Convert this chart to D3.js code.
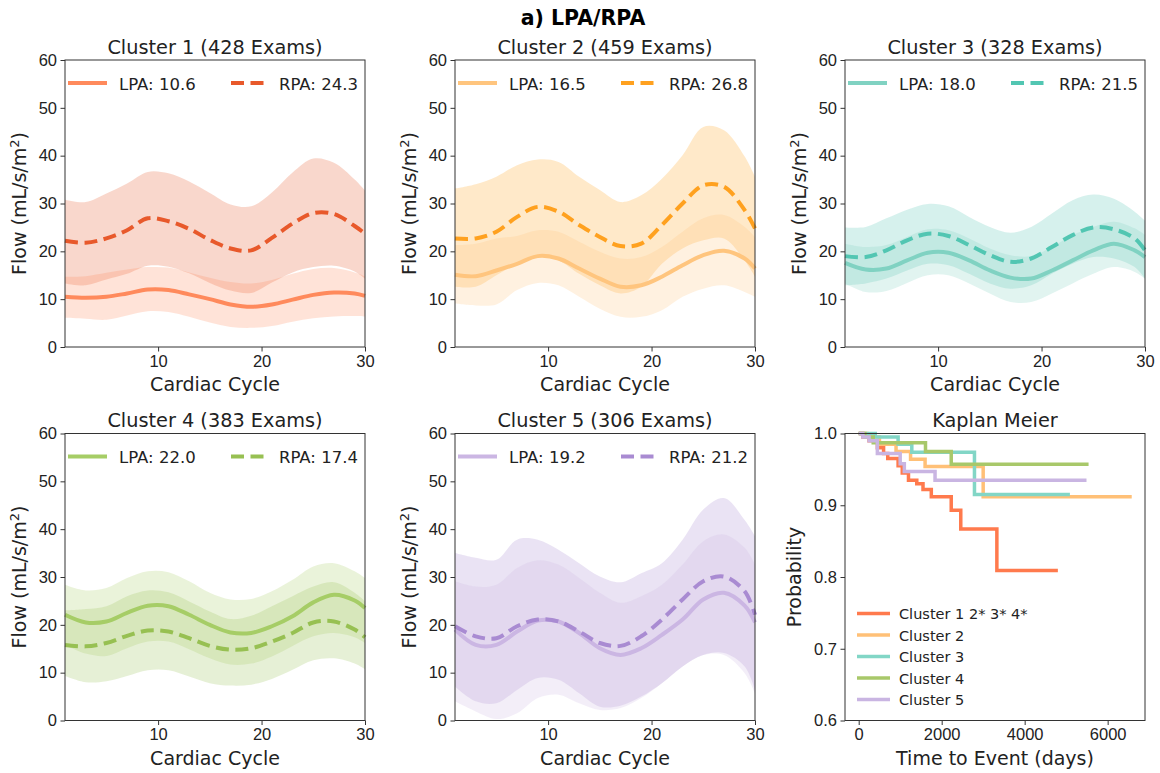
<!DOCTYPE html>
<html>
<head>
<meta charset="utf-8">
<script src="https://cdn.jsdelivr.net/npm/d3@7"></script>
<style>
body { margin: 0; background: #fff; }
svg { font-family: "DejaVu Sans", sans-serif; }
.tick text { font-size: 16.5px; fill: #222; }
.tick line { stroke: #333; }
</style>
</head>
<body>
<svg id="chart" width="1160" height="773"></svg>
<script>
// cardiac cycle frames at which values were read
var cycle = [1, 3, 5, 7, 9, 11, 13, 15, 17, 19, 21, 23, 25, 27, 29, 30];

var clusterNames = ["Cluster 1", "Cluster 2", "Cluster 3", "Cluster 4", "Cluster 5"];
var examCounts = [428, 459, 328, 383, 306];
var lpaAvg = ["10.6", "16.5", "18.0", "22.0", "19.2"];
var rpaAvg = ["24.3", "26.8", "21.5", "17.4", "21.2"];

var lpaColors = ["#ff8a5c", "#ffc57e", "#80d2c2", "#a6cd66", "#cbb6e3"];
var rpaColors = ["#e8592b", "#ffa11f", "#52c6b2", "#97c052", "#a98bd2"];

// LPA flow per cluster
var lpaMean = [
	[10.5, 10.3, 10.5, 11.2, 12.0, 11.9, 11.0, 10.0, 8.9, 8.4, 8.9, 9.9, 10.9, 11.4, 11.2, 10.7],
	[15.1, 14.8, 16.0, 17.4, 19.0, 18.5, 16.4, 14.3, 12.6, 12.9, 14.7, 17.1, 19.2, 20.1, 18.5, 16.4],
	[17.6, 16.2, 16.4, 18.1, 19.7, 19.7, 18.1, 16.0, 14.5, 14.3, 16.0, 18.1, 20.2, 21.6, 20.2, 18.8],
	[22.1, 20.5, 20.7, 22.5, 24.0, 23.9, 22.1, 20.0, 18.4, 18.3, 19.7, 21.8, 24.7, 26.3, 25.1, 23.5],
	[19.0, 15.8, 15.8, 18.6, 20.9, 20.7, 18.3, 15.1, 13.7, 15.1, 17.9, 21.1, 25.3, 26.7, 24.0, 20.5]
];
var lpaLow = [
	[6.1, 5.9, 5.7, 6.6, 7.5, 7.3, 6.3, 5.1, 4.2, 4.0, 4.4, 5.3, 6.0, 6.4, 6.5, 6.4],
	[9.1, 8.7, 8.9, 11.9, 13.4, 12.9, 10.5, 8.0, 6.3, 6.3, 7.7, 10.5, 12.2, 12.9, 11.5, 10.5],
	[13.3, 11.5, 11.7, 13.4, 15.0, 15.0, 13.3, 11.2, 9.4, 9.4, 11.2, 13.3, 15.3, 16.7, 15.7, 14.3],
	[15.8, 14.0, 13.5, 15.1, 16.5, 16.5, 14.9, 13.0, 11.7, 11.9, 13.4, 15.6, 17.6, 18.3, 17.4, 16.2],
	[4.0, 1.9, 0.3, 1.5, 4.7, 5.4, 3.6, 2.2, 2.6, 4.7, 7.8, 11.3, 13.7, 13.7, 9.9, 5.7]
];
var lpaHigh = [
	[14.7, 14.8, 15.5, 16.2, 16.7, 16.6, 15.6, 14.5, 13.6, 13.3, 14.0, 15.3, 16.3, 16.5, 15.6, 14.8],
	[21.3, 21.6, 22.7, 23.2, 24.4, 24.1, 22.0, 19.9, 18.5, 18.8, 20.9, 24.1, 26.9, 27.6, 25.1, 23.0],
	[21.6, 20.9, 21.3, 23.0, 24.6, 24.4, 22.7, 20.6, 19.2, 19.0, 20.9, 23.4, 25.1, 26.2, 24.8, 23.4],
	[28.4, 27.2, 27.7, 29.8, 31.2, 31.0, 29.1, 26.7, 25.3, 25.4, 27.0, 29.4, 32.2, 32.9, 31.2, 29.8],
	[29.1, 28.0, 28.4, 31.9, 33.5, 32.6, 29.8, 26.7, 24.6, 26.0, 28.4, 32.6, 37.5, 38.9, 36.1, 32.6]
];

// RPA flow per cluster
var rpaMean = [
	[22.2, 21.8, 22.7, 24.4, 26.9, 26.3, 24.7, 22.4, 20.6, 20.2, 22.8, 25.8, 28.0, 27.8, 25.3, 23.7],
	[22.7, 22.7, 24.1, 27.2, 29.3, 28.3, 25.5, 23.0, 21.1, 21.6, 25.5, 30.0, 33.8, 33.5, 28.6, 24.8],
	[19.0, 18.8, 20.2, 22.3, 23.7, 23.2, 21.3, 19.2, 17.8, 18.5, 20.9, 23.4, 25.0, 24.6, 22.7, 20.2],
	[15.8, 15.5, 16.2, 17.7, 18.8, 18.6, 17.2, 15.6, 14.8, 15.1, 16.5, 18.3, 20.5, 20.7, 19.0, 17.4],
	[19.7, 17.6, 17.2, 19.7, 21.1, 20.7, 18.6, 16.2, 15.6, 17.6, 21.1, 25.3, 29.1, 30.1, 27.0, 22.1]
];
var rpaLow = [
	[13.3, 12.9, 14.1, 15.3, 17.0, 16.8, 15.4, 13.4, 11.8, 11.3, 13.5, 15.6, 16.7, 17.0, 15.8, 14.3],
	[12.6, 12.6, 15.0, 17.4, 18.8, 18.1, 15.3, 12.9, 11.2, 12.6, 17.4, 20.6, 22.3, 22.7, 18.1, 14.7],
	[12.9, 13.3, 14.3, 16.0, 17.4, 17.1, 15.3, 13.3, 12.2, 12.9, 15.3, 17.4, 18.8, 18.5, 16.7, 14.3],
	[9.3, 8.0, 8.2, 9.3, 10.5, 10.5, 9.2, 7.8, 7.3, 7.5, 8.7, 10.6, 12.6, 13.0, 11.9, 10.7],
	[7.1, 4.0, 3.6, 6.4, 8.9, 8.5, 5.7, 2.9, 3.1, 5.0, 7.8, 11.3, 13.7, 14.1, 11.3, 6.4]
];
var rpaHigh = [
	[30.8, 30.3, 32.1, 34.2, 36.6, 36.3, 34.6, 32.2, 29.8, 29.4, 32.3, 36.5, 39.4, 38.5, 35.0, 32.7],
	[33.1, 34.0, 35.6, 38.0, 39.2, 38.7, 35.6, 32.8, 30.3, 31.7, 35.2, 40.1, 46.0, 45.3, 39.8, 35.6],
	[25.0, 25.1, 26.9, 28.7, 29.9, 29.4, 27.2, 25.1, 23.9, 25.1, 27.9, 30.7, 31.9, 31.0, 28.3, 26.4],
	[23.0, 23.3, 23.9, 26.0, 27.2, 26.8, 24.9, 22.8, 21.2, 21.9, 23.9, 26.0, 28.0, 28.9, 26.7, 24.9],
	[35.0, 34.0, 33.6, 37.8, 37.8, 35.7, 32.9, 30.1, 28.9, 30.8, 32.9, 37.8, 44.1, 46.5, 41.9, 38.5]
];

// Kaplan Meier steps (time in days, survival probability)
var kmLabels = ["Cluster 1 2* 3* 4*", "Cluster 2", "Cluster 3", "Cluster 4", "Cluster 5"];
var kmColors = ["#ff7a4d", "#ffc077", "#82d6c6", "#a8c86a", "#c9b5e2"];
var kmTimes = [
	[0, 100, 250, 450, 600, 700, 950, 1050, 1200, 1400, 1550, 1750, 2230, 2460, 3330, 4800],
	[0, 200, 500, 900, 1250, 1600, 3000, 6580],
	[0, 400, 950, 1280, 2790, 5090],
	[0, 150, 350, 1610, 2230, 5540],
	[0, 100, 250, 450, 1000, 1100, 1840, 5490]
];
var kmProbs = [
	[1, 0.995, 0.99, 0.98, 0.972, 0.965, 0.955, 0.945, 0.935, 0.93, 0.922, 0.912, 0.893, 0.867, 0.809, 0.809],
	[1, 0.995, 0.985, 0.975, 0.964, 0.954, 0.912, 0.912],
	[1, 0.995, 0.985, 0.974, 0.915, 0.915],
	[1, 0.995, 0.987, 0.975, 0.957, 0.957],
	[1, 0.995, 0.99, 0.972, 0.958, 0.947, 0.935, 0.935]
];

var flowTicks = [0, 10, 20, 30, 40, 50, 60];
var cycleTicks = [10, 20, 30];
var kmXTicks = [0, 2000, 4000, 6000];
var kmYTicks = [0.6, 0.7, 0.8, 0.9, 1.0];

var width = 300, height = 287;
var panels = [
	{ left: 65, top: 60 }, { left: 455, top: 60 }, { left: 845, top: 60 },
	{ left: 65, top: 433.5 }, { left: 455, top: 433.5 }, { left: 845, top: 433.5 }
];

var svg = d3.select("#chart");

svg.append("text")
	.attr("x", 583).attr("y", 25)
	.attr("text-anchor", "middle")
	.style("font-size", "20.5px").style("font-weight", "bold")
	.text("a) LPA/RPA");

var x = d3.scaleLinear().domain([1, 30]).range([0, width]);
var y = d3.scaleLinear().domain([0, 60]).range([height, 0]);

function frame(g) {
	g.append("rect")
		.attr("width", width).attr("height", height)
		.attr("fill", "none").attr("stroke", "#333").attr("stroke-width", 1);
}

function styleAxis(sel) {
	sel.select(".domain").remove();
	sel.selectAll(".tick line").attr("stroke", "#333");
}

clusterNames.forEach(function (name, c) {
	var p = panels[c];
	var g = svg.append("g").attr("transform", "translate(" + p.left + "," + p.top + ")");
	var lpa = cycle.map(function (t, i) { return { t: t, m: lpaMean[c][i], lo: lpaLow[c][i], hi: lpaHigh[c][i] }; });
	var rpa = cycle.map(function (t, i) { return { t: t, m: rpaMean[c][i], lo: rpaLow[c][i], hi: rpaHigh[c][i] }; });

	var area = d3.area()
		.curve(d3.curveCatmullRom.alpha(0.5))
		.x(function (d) { return x(d.t); })
		.y0(function (d) { return y(d.lo); })
		.y1(function (d) { return y(d.hi); });
	var line = d3.line()
		.curve(d3.curveCatmullRom.alpha(0.5))
		.x(function (d) { return x(d.t); })
		.y(function (d) { return y(d.m); });

	g.append("path").attr("d", area(rpa)).attr("fill", rpaColors[c]).attr("fill-opacity", 0.24);
	g.append("path").attr("d", area(lpa)).attr("fill", lpaColors[c]).attr("fill-opacity", 0.24);
	g.append("path").attr("d", line(lpa)).attr("fill", "none")
		.attr("stroke", lpaColors[c]).attr("stroke-width", 4);
	g.append("path").attr("d", line(rpa)).attr("fill", "none")
		.attr("stroke", rpaColors[c]).attr("stroke-width", 4).attr("stroke-dasharray", "13,6.5");

	g.append("g").attr("transform", "translate(0," + height + ")")
		.call(d3.axisBottom(x).tickValues(cycleTicks).tickSize(4.5).tickPadding(3.5))
		.call(styleAxis);
	g.append("g")
		.call(d3.axisLeft(y).tickValues(flowTicks).tickSize(4.5).tickPadding(3.5))
		.call(styleAxis);
	frame(g);

	g.append("text").attr("x", width / 2).attr("y", -6.5)
		.attr("text-anchor", "middle").style("font-size", "19.3px").attr("fill", "#222")
		.text(name + " (" + examCounts[c] + " Exams)");
	g.append("text").attr("x", width / 2).attr("y", height + 44)
		.attr("text-anchor", "middle").style("font-size", "19px").attr("fill", "#222")
		.text("Cardiac Cycle");
	var yl = g.append("text")
		.attr("transform", "translate(-39," + (height / 2) + ") rotate(-90)")
		.attr("text-anchor", "middle").style("font-size", "19px").attr("fill", "#222");
	yl.append("tspan").text("Flow (mL/s/m");
	yl.append("tspan").attr("dy", -7).style("font-size", "13px").text("2");
	yl.append("tspan").attr("dy", 7).text(")");

	// legend
	var lg = g.append("g").attr("transform", "translate(0,23)");
	lg.append("line").attr("x1", 3).attr("x2", 42).attr("stroke", lpaColors[c]).attr("stroke-width", 4);
	lg.append("text").attr("x", 54).attr("y", 6.5).style("font-size", "16.5px").attr("fill", "#222")
		.text("LPA: " + lpaAvg[c]);
	lg.append("line").attr("x1", 166).attr("x2", 201).attr("stroke", rpaColors[c])
		.attr("stroke-width", 4).attr("stroke-dasharray", "13,6.5");
	lg.append("text").attr("x", 214).attr("y", 6.5).style("font-size", "16.5px").attr("fill", "#222")
		.text("RPA: " + rpaAvg[c]);
});

// Kaplan Meier panel
var kp = panels[5];
var kg = svg.append("g").attr("transform", "translate(" + kp.left + "," + kp.top + ")");
var kx = d3.scaleLinear().domain([-330, 6900]).range([0, width]);
var ky = d3.scaleLinear().domain([0.6, 1.0]).range([height, 0]);
var step = d3.line().curve(d3.curveStepAfter)
	.x(function (d) { return kx(d[0]); })
	.y(function (d) { return ky(d[1]); });

kmLabels.forEach(function (lab, c) {
	var pts = kmTimes[c].map(function (t, i) { return [t, kmProbs[c][i]]; });
	kg.append("path").attr("d", step(pts)).attr("fill", "none")
		.attr("stroke", kmColors[c]).attr("stroke-width", 3.5);
});

kg.append("g").attr("transform", "translate(0," + height + ")")
	.call(d3.axisBottom(kx).tickValues(kmXTicks).tickFormat(d3.format("d")).tickSize(4.5).tickPadding(3.5))
	.call(styleAxis);
kg.append("g")
	.call(d3.axisLeft(ky).tickValues(kmYTicks).tickFormat(d3.format(".1f")).tickSize(4.5).tickPadding(3.5))
	.call(styleAxis);
frame(kg);

kg.append("text").attr("x", width / 2).attr("y", -6.5)
	.attr("text-anchor", "middle").style("font-size", "19.3px").attr("fill", "#222")
	.text("Kaplan Meier");
kg.append("text").attr("x", width / 2).attr("y", height + 44)
	.attr("text-anchor", "middle").style("font-size", "19px").attr("fill", "#222")
	.text("Time to Event (days)");
kg.append("text")
	.attr("transform", "translate(-44," + (height / 2) + ") rotate(-90)")
	.attr("text-anchor", "middle").style("font-size", "19px").attr("fill", "#222")
	.text("Probability");

var kl = kg.append("g").attr("transform", "translate(0,180)");
kmLabels.forEach(function (lab, c) {
	var row = kl.append("g").attr("transform", "translate(0," + (c * 21.5) + ")");
	row.append("line").attr("x1", 12).attr("x2", 45)
		.attr("stroke", kmColors[c]).attr("stroke-width", 3.5);
	row.append("text").attr("x", 54).attr("y", 5.5)
		.style("font-size", "14.5px").attr("fill", "#222").text(lab);
});
</script>
</body>
</html>
